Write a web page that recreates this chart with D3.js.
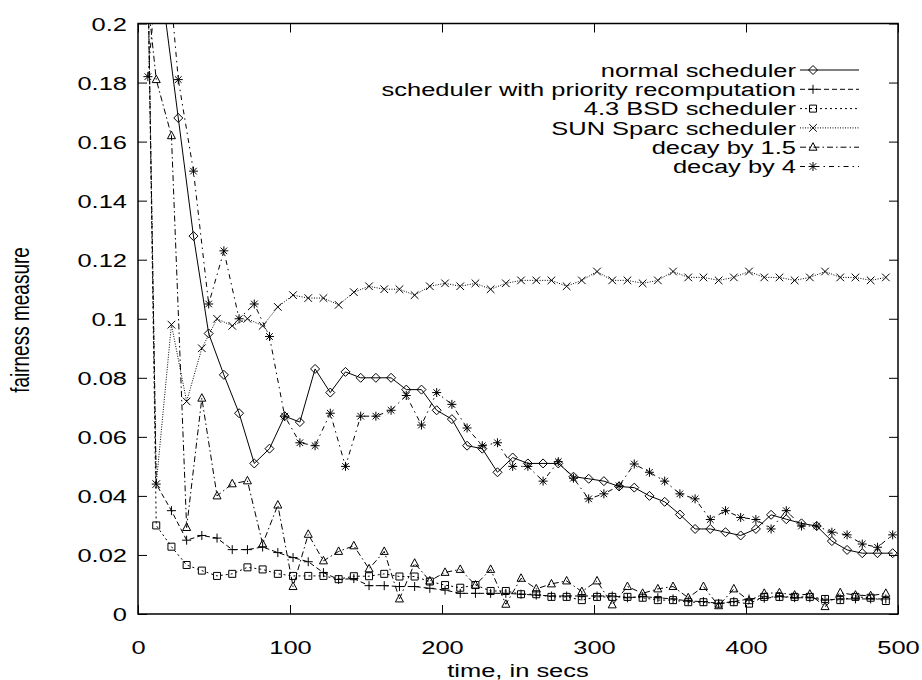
<!DOCTYPE html>
<html>
<head>
<meta charset="utf-8">
<script src="https://cdn.jsdelivr.net/npm/d3@7"></script>
<style>
  body { margin: 0; background: #fff; }
  svg text { font-family: "Liberation Sans", Arial, sans-serif; fill: #000; }
</style>
</head>
<body>
<script>
// sample times (two interleaved sampling grids)
var timesA = [2, 12, 22, 32, 42, 52, 62, 72, 82, 92, 102, 112, 122, 132, 142, 152, 162, 172, 182, 192,
  202, 212, 222, 232, 242, 252, 262, 272, 282, 292, 302, 312, 322, 332, 342, 352, 362, 372, 382, 392,
  402, 412, 422, 432, 442, 452, 462, 472, 482, 492];
var timesB = [6.5, 16.5, 26.5, 36.5, 46.5, 56.5, 66.5, 76.5, 86.5, 96.5, 106.5, 116.5, 126.5, 136.5, 146.5,
  156.5, 166.5, 176.5, 186.5, 196.5, 206.5, 216.5, 226.5, 236.5, 246.5, 256.5, 266.5, 276.5, 286.5, 296.5,
  306.5, 316.5, 326.5, 336.5, 346.5, 356.5, 366.5, 376.5, 386.5, 396.5, 406.5, 416.5, 426.5, 436.5, 446.5,
  456.5, 466.5, 476.5, 486.5, 496.5];

var seriesNames = ["normal scheduler", "scheduler with priority recomputation", "4.3 BSD scheduler",
  "SUN Sparc scheduler", "decay by 1.5", "decay by 4"];

var normalVals = [0.30, 0.208, 0.168, 0.128, 0.095, 0.081, 0.068, 0.051, 0.056, 0.067, 0.065, 0.083, 0.075,
  0.082, 0.080, 0.080, 0.080, 0.076, 0.076, 0.069, 0.066, 0.057, 0.056, 0.048, 0.053, 0.051, 0.051, 0.051,
  0.0465, 0.0458, 0.045, 0.0432, 0.0428, 0.040, 0.038, 0.0337, 0.0288, 0.0288, 0.0277, 0.0266, 0.0288,
  0.0336, 0.0321, 0.0307, 0.0298, 0.0247, 0.0217, 0.0206, 0.0206, 0.0206];
var priorityVals = [0.36, 0.044, 0.035, 0.025, 0.0266, 0.0257, 0.0218, 0.0218, 0.0227, 0.0208, 0.0191,
  0.0177, 0.014, 0.0117, 0.012, 0.0096, 0.0096, 0.0093, 0.0093, 0.0087, 0.0081, 0.007, 0.007, 0.007, 0.007,
  0.0067, 0.0064, 0.0061, 0.0061, 0.0061, 0.0061, 0.0061, 0.0055, 0.0059, 0.0055, 0.0051, 0.0044, 0.0042,
  0.0036, 0.0042, 0.0051, 0.0053, 0.0059, 0.0055, 0.0055, 0.0047, 0.0051, 0.0051, 0.0051, 0.0051];
var bsdVals = [0.37, 0.030, 0.0228, 0.0166, 0.0147, 0.0129, 0.0136, 0.0158, 0.0151, 0.0136, 0.0129, 0.0129,
  0.0129, 0.0118, 0.0128, 0.0128, 0.0136, 0.0127, 0.0127, 0.011, 0.0098, 0.0089, 0.0098, 0.0078, 0.0078,
  0.0067, 0.0067, 0.0058, 0.0058, 0.0047, 0.0058, 0.0058, 0.0058, 0.0055, 0.0047, 0.0047, 0.004, 0.004,
  0.0035, 0.004, 0.0035, 0.0058, 0.0058, 0.0058, 0.0058, 0.0051, 0.0047, 0.0058, 0.0055, 0.0044];
var sunVals = [0.36, 0.044, 0.098, 0.072, 0.090, 0.100, 0.0976, 0.100, 0.0976, 0.104, 0.108, 0.107, 0.107,
  0.1047, 0.109, 0.111, 0.110, 0.110, 0.108, 0.111, 0.112, 0.111, 0.112, 0.110, 0.112, 0.113, 0.113, 0.113,
  0.111, 0.113, 0.116, 0.113, 0.113, 0.112, 0.113, 0.116, 0.114, 0.114, 0.113, 0.114, 0.116, 0.114, 0.114,
  0.113, 0.114, 0.116, 0.114, 0.114, 0.113, 0.114];
var decay15Vals = [0.23, 0.181, 0.162, 0.0293, 0.0731, 0.040, 0.0441, 0.0451, 0.0237, 0.0369, 0.0093, 0.027,
  0.018, 0.0212, 0.0231, 0.0153, 0.0212, 0.0051, 0.0172, 0.0112, 0.0141, 0.0151, 0.0098, 0.0151, 0.0033,
  0.0121, 0.0085, 0.0102, 0.0112, 0.0076, 0.0112, 0.0031, 0.0093, 0.007, 0.0085, 0.0093, 0.0055, 0.0093,
  0.0028, 0.0085, 0.0045, 0.007, 0.0072, 0.0064, 0.0067, 0.0025, 0.0072, 0.0064, 0.0062, 0.007];
var decay4Vals = [0.182, 0.24, 0.181, 0.150, 0.105, 0.123, 0.100, 0.105, 0.094, 0.067, 0.058, 0.057, 0.068,
  0.050, 0.067, 0.067, 0.069, 0.074, 0.064, 0.075, 0.071, 0.063, 0.057, 0.058, 0.050, 0.050, 0.045, 0.0516,
  0.046, 0.039, 0.0407, 0.0434, 0.0508, 0.048, 0.045, 0.0407, 0.039, 0.032, 0.035, 0.0327, 0.032, 0.0288,
  0.035, 0.0298, 0.0298, 0.0277, 0.0268, 0.0237, 0.0226, 0.0268];

var xTicks = [0, 100, 200, 300, 400, 500];
var yTicks = [0, 0.02, 0.04, 0.06, 0.08, 0.1, 0.12, 0.14, 0.16, 0.18, 0.2];

var W = 922, H = 680;
var plotL = 138, plotR = 898, plotT = 23.5, plotB = 614;
var fs = 19, sx = 1.34;   // the original text is stretched sideways

var x = d3.scaleLinear().domain([0, 500]).range([plotL, plotR]);
var y = d3.scaleLinear().domain([0, 0.2]).range([plotB, plotT]);

var series = [
  { name: seriesNames[0], t: timesB, v: normalVals, dash: null, mark: "diamond" },
  { name: seriesNames[1], t: timesA, v: priorityVals, dash: "5,3", mark: "plus" },
  { name: seriesNames[2], t: timesA, v: bsdVals, dash: "2,3", mark: "square" },
  { name: seriesNames[3], t: timesA, v: sunVals, dash: "1,1.5", mark: "cross" },
  { name: seriesNames[4], t: timesA, v: decay15Vals, dash: "6,3,1.5,3", mark: "triangle" },
  { name: seriesNames[5], t: timesB, v: decay4Vals, dash: "5,4,1.5,4", mark: "star" }
];

function markPath(type) {
  if (type == "diamond") return "M0,-4.5L4.5,0L0,4.5L-4.5,0Z";
  if (type == "plus") return "M-4.5,0H4.5M0,-4.5V4.5";
  if (type == "square") return "M-3.5,-3.5H3.5V3.5H-3.5Z";
  if (type == "cross") return "M-3.8,-3.8L3.8,3.8M-3.8,3.8L3.8,-3.8";
  if (type == "triangle") return "M0,-4.5L4,3L-4,3Z";
  if (type == "star") return "M-4.5,0H4.5M0,-4.5V4.5M-3.3,-3.3L3.3,3.3M-3.3,3.3L3.3,-3.3";
  return "";
}

// text drawn at (px, py), stretched sideways like the original
function stretchedText(g, px, py, anchor, str) {
  return g.append("text")
    .attr("transform", "translate(" + px + "," + py + ") scale(" + sx + ",1)")
    .attr("text-anchor", anchor)
    .attr("font-size", fs + "px")
    .text(str);
}

var svg = d3.select("body")
  .append("svg")
  .attr("width", W)
  .attr("height", H);

svg.append("defs").append("clipPath")
  .attr("id", "plotclip")
  .append("rect")
  .attr("x", plotL)
  .attr("y", plotT)
  .attr("width", plotR - plotL)
  .attr("height", plotB - plotT);

// axes with inward ticks, mirrored on top/right
var tickLen = 9;
var yAxisL = d3.axisLeft(y).tickValues(yTicks).tickSize(-tickLen).tickFormat(d3.format("~g"));
var yAxisR = d3.axisRight(y).tickValues(yTicks).tickSize(-tickLen).tickFormat("");
var xAxisB = d3.axisBottom(x).tickValues(xTicks).tickSize(-tickLen).tickFormat(d3.format("d"));
var xAxisT = d3.axisTop(x).tickValues(xTicks).tickSize(-tickLen).tickFormat("");

function styleAxis(g) {
  g.select(".domain").remove();
  g.selectAll("line").attr("stroke", "#000").attr("stroke-width", 1);
  g.selectAll("text").attr("font-size", fs + "px").attr("font-family", "Liberation Sans, Arial, sans-serif");
}

svg.append("g").attr("transform", "translate(" + plotL + ",0)").call(yAxisL).call(styleAxis)
  .selectAll("text")
  .attr("x", -11 / sx)
  .attr("dy", "0.36em")
  .attr("transform", "scale(" + sx + ",1)");
svg.append("g").attr("transform", "translate(" + plotR + ",0)").call(yAxisR).call(styleAxis);
svg.append("g").attr("transform", "translate(0," + plotB + ")").call(xAxisB).call(styleAxis)
  .selectAll("text")
  .attr("y", 27)
  .attr("dy", "0.71em")
  .attr("transform", "scale(" + sx + ",1)");
svg.append("g").attr("transform", "translate(0," + plotT + ")").call(xAxisT).call(styleAxis);

svg.append("rect")
  .attr("x", plotL)
  .attr("y", plotT)
  .attr("width", plotR - plotL)
  .attr("height", plotB - plotT)
  .attr("fill", "none")
  .attr("stroke", "#000")
  .attr("stroke-width", 1.5);

stretchedText(svg, 518, 677, "middle", "time, in secs");

svg.append("text")
  .attr("transform", "translate(29,320) scale(" + sx + ",1) rotate(-90)")
  .attr("text-anchor", "middle")
  .attr("font-size", fs + "px")
  .text("fairness measure");

var line = d3.line()
  .x(function(d) { return x(d[0]); })
  .y(function(d) { return y(d[1]); });

var plot = svg.append("g").attr("clip-path", "url(#plotclip)");

series.forEach(function(s) {
  var pts = s.t.map(function(t, i) { return [t, s.v[i]]; });
  plot.append("path")
    .datum(pts)
    .attr("d", line)
    .attr("fill", "none")
    .attr("stroke", "#000")
    .attr("stroke-width", 1)
    .attr("stroke-dasharray", s.dash);
  plot.selectAll(null)
    .data(pts.filter(function(d) { return d[1] <= 0.2; }))
    .enter()
    .append("path")
    .attr("transform", function(d) { return "translate(" + x(d[0]) + "," + y(d[1]) + ")"; })
    .attr("d", markPath(s.mark))
    .attr("fill", "none")
    .attr("stroke", "#000")
    .attr("stroke-width", 1);
});

// key
var key = svg.append("g");
series.forEach(function(s, i) {
  var ky = 70 + i * 19.3;
  stretchedText(key, 796, ky, "end", s.name).attr("dy", "0.36em");
  key.append("line")
    .attr("x1", 800).attr("x2", 859)
    .attr("y1", ky).attr("y2", ky)
    .attr("stroke", "#000")
    .attr("stroke-width", 1)
    .attr("stroke-dasharray", s.dash);
  key.append("path")
    .attr("transform", "translate(813," + ky + ")")
    .attr("d", markPath(s.mark))
    .attr("fill", "none")
    .attr("stroke", "#000");
});
</script>
</body>
</html>
